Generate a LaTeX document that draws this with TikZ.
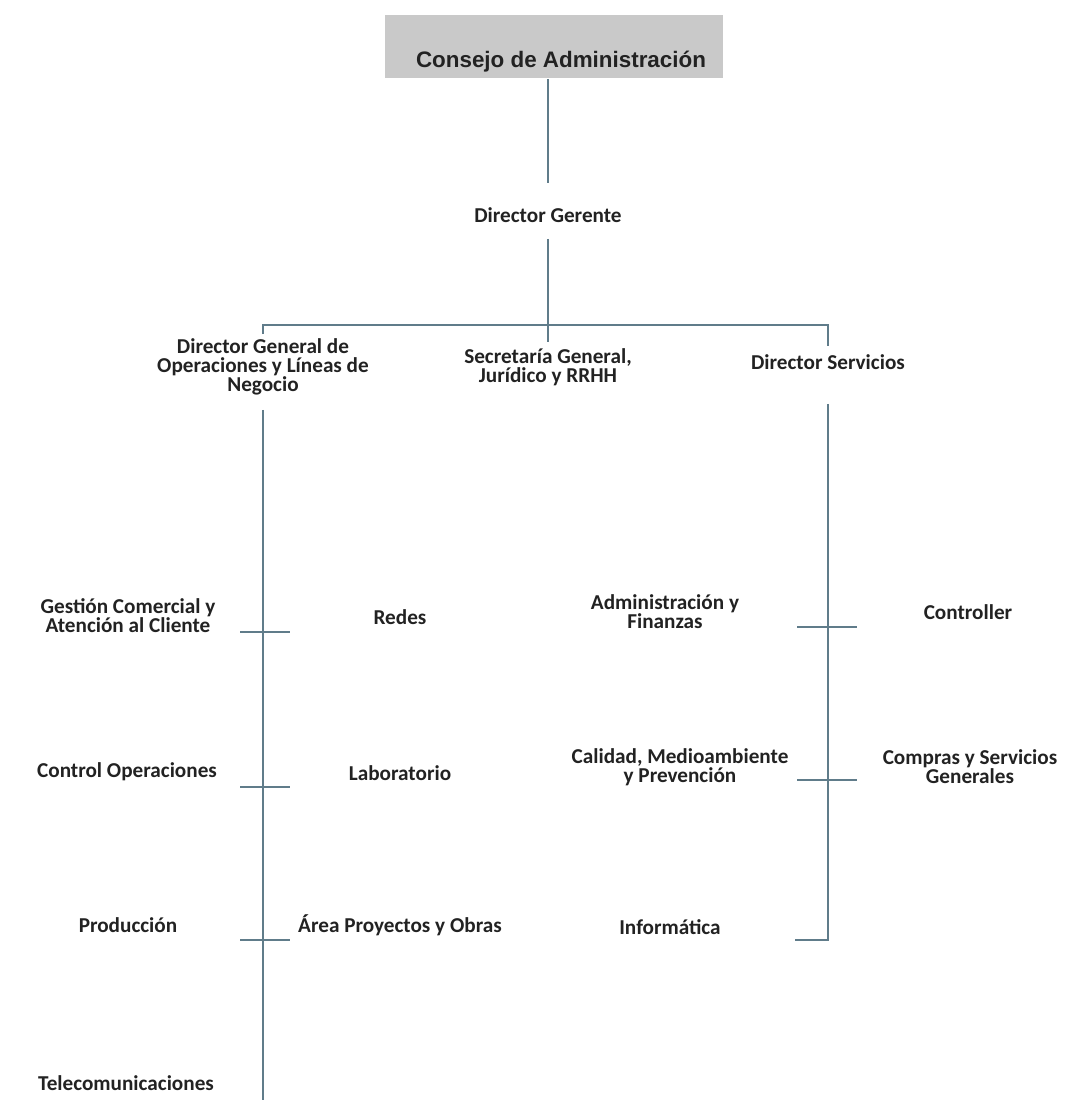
\documentclass[tikz,border=0pt]{standalone}
\usepackage{fontspec}
\setmainfont{Carlito}
\newfontfamily\headfont{Liberation Sans}
\usetikzlibrary{positioning}
\definecolor{linegray}{RGB}{96,124,138}
\definecolor{boxgray}{RGB}{201,201,201}
\definecolor{textgray}{RGB}{34,34,34}

\begin{document}
\begin{tikzpicture}[x=0.5pt,y=-0.5pt,
		unit/.style={align=center,text=textgray,inner sep=1pt,
			font=\bfseries\fontsize{10.6}{9.6}\selectfont},
		link/.style={linegray,line width=1pt}]
		\useasboundingbox (0,0) rectangle (1074,1100);

		% Top levels
		\node[anchor=north,fill=boxgray,minimum width=169pt,inner sep=0pt,
			text height=26pt,text depth=5.5pt,text=textgray,
			font=\headfont\bfseries\fontsize{11.2}{12}\selectfont] (consejo) at (554,15) {\hspace*{7pt}Consejo de Administración};
		\node[unit] (gerente) at (548,215) {Director Gerente};
		\node[unit] (dirgen) at (263,367) {Director General de\\Operaciones y Líneas de\\Negocio};
		\node[unit] (secretaria) at (548,367) {Secretaría General,\\Jurídico y RRHH};
		\node[unit] (dirserv) at (828,362) {Director Servicios};

		% Left branch
		\node[unit] (gestion) at (128,616) {Gestión Comercial y\\Atención al Cliente};
		\node[unit] (redes) at (400,617) {Redes};
		\node[unit] (controlop) at (127,772) {Control Operaciones};
		\node[unit] (laboratorio) at (400,773) {Laboratorio};
		\node[unit] (produccion) at (128,925) {Producción};
		\node[unit] (proyectos) at (400,925) {Área Proyectos y Obras};
		\node[unit] (telecom) at (126,1083) {Telecomunicaciones};

		% Right branch
		\node[unit] (adminfin) at (665,612) {Administración y\\Finanzas};
		\node[unit] (controller) at (968,612) {Controller};
		\node[unit] (calidad) at (680,767) {Calidad, Medioambiente\\y Prevención};
		\node[unit] (compras) at (970,767) {Compras y Servicios\\Generales};
		\node[unit] (informatica) at (670,927) {Informática};

		% Connectors
		\coordinate (bar) at (548,325);
		\coordinate (leftend) at (263,1100);
		\coordinate (rightend) at (828,940);
		\draw[link,shorten >=11pt] (consejo.south -| gerente) -- (gerente.north);
		\draw[link,shorten <=7pt,shorten >=2pt] (gerente.south) -- (secretaria.north);
		\draw[link] ([yshift=1pt]dirgen.north) |- (bar) -| ([yshift=3pt]dirserv.north);
		\draw[link] ([yshift=-6pt]dirgen.south) -- (leftend);
		\draw[link] ([yshift=-16pt]dirserv.south) -- (rightend) -- ++(-33,0);

		% Ticks on the two lines
		\draw[link] (240,632) -- (290,632);
		\draw[link] (240,787) -- (290,787);
		\draw[link] (240,940) -- (290,940);
		\draw[link] (797,627) -- (857,627);
		\draw[link] (797,780) -- (857,780);
	\end{tikzpicture}
\end{document}
